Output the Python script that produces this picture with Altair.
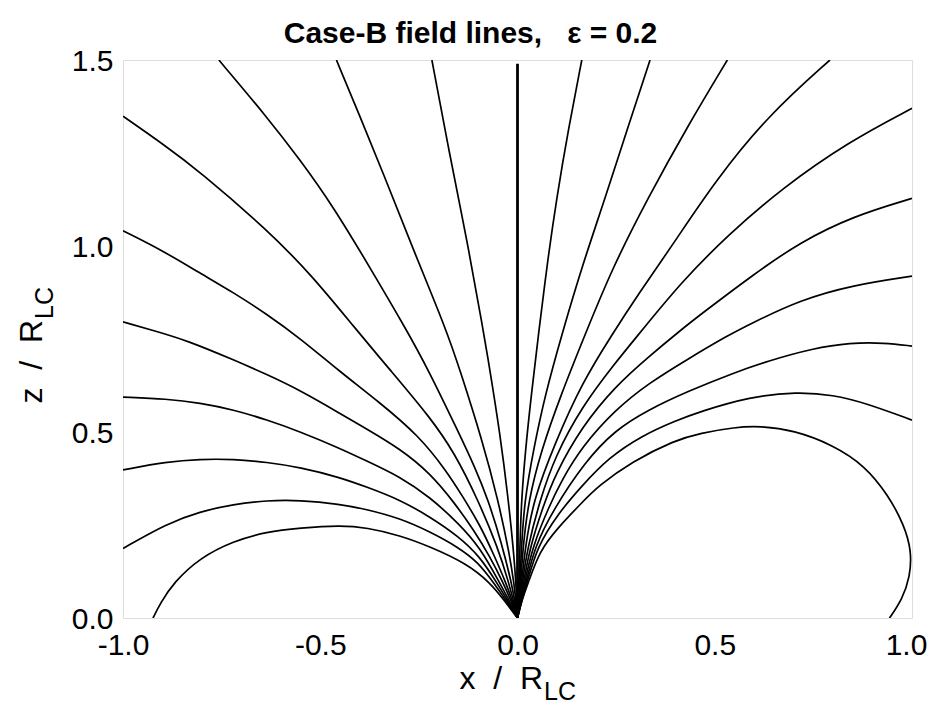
import altair as alt
import pandas as pd

# ---- field-line samples (x / R_LC, z / R_LC) ----
left1_x = [0, -0.032, -0.068, -0.13, -0.222, -0.298, -0.382, -0.45, -0.551, -0.636, -0.72, -0.805, -0.872, -0.905, -0.924]
left1_z = [0, 0.045, 0.094, 0.147, 0.192, 0.222, 0.243, 0.249, 0.242, 0.232, 0.207, 0.162, 0.095, 0.04, 0]

left2_x = [0, -0.028, -0.06, -0.1, -0.15, -0.222, -0.298, -0.382, -0.45, -0.551, -0.636, -0.72, -0.805, -0.889, -1.0]
left2_z = [0, 0.045, 0.094, 0.15, 0.19, 0.232, 0.268, 0.292, 0.306, 0.317, 0.316, 0.306, 0.286, 0.254, 0.187]

left3_x = [0, -0.024, -0.052, -0.095, -0.15, -0.222, -0.298, -0.382, -0.45, -0.551, -0.636, -0.72, -0.805, -0.889, -1.0]
left3_z = [0, 0.045, 0.094, 0.165, 0.22, 0.272, 0.318, 0.352, 0.378, 0.405, 0.419, 0.427, 0.427, 0.42, 0.398]

left4_x = [0, -0.02, -0.045, -0.095, -0.15, -0.222, -0.298, -0.382, -0.45, -0.551, -0.636, -0.72, -0.805, -0.889, -1.0]
left4_z = [0, 0.045, 0.094, 0.19, 0.255, 0.325, 0.38, 0.422, 0.456, 0.501, 0.533, 0.56, 0.578, 0.589, 0.594]

left5_x = [0, -0.016, -0.036, -0.07, -0.11, -0.16, -0.222, -0.298, -0.382, -0.45, -0.551, -0.636, -0.72, -0.835, -0.92, -1.0]
left5_z = [0, 0.045, 0.094, 0.165, 0.235, 0.31, 0.39, 0.455, 0.508, 0.55, 0.612, 0.655, 0.694, 0.745, 0.772, 0.796]

left6_x = [0, -0.013, -0.029, -0.06, -0.095, -0.141, -0.18, -0.25, -0.35, -0.45, -0.551, -0.636, -0.72, -0.805, -0.9, -1.0]
left6_z = [0, 0.045, 0.094, 0.17, 0.25, 0.33, 0.395, 0.49, 0.58, 0.662, 0.752, 0.817, 0.875, 0.927, 0.988, 1.041]

left7_x = [0, -0.01, -0.022, -0.05, -0.1, -0.16, -0.222, -0.323, -0.408, -0.52, -0.636, -0.805, -0.9, -1.0]
left7_z = [0, 0.045, 0.094, 0.19, 0.317, 0.445, 0.54, 0.667, 0.774, 0.92, 1.045, 1.2, 1.275, 1.349]

left8_x = [0, -0.007, -0.015, -0.04, -0.074, -0.11, -0.15, -0.226, -0.281, -0.37, -0.467, -0.55, -0.636, -0.757]
left8_z = [0, 0.045, 0.094, 0.2, 0.317, 0.41, 0.5, 0.667, 0.774, 0.935, 1.106, 1.23, 1.348, 1.5]

left9_x = [0, -0.004, -0.009, -0.02, -0.049, -0.09, -0.146, -0.18, -0.268, -0.34, -0.4, -0.459]
left9_z = [0, 0.045, 0.094, 0.17, 0.317, 0.48, 0.667, 0.774, 1.0, 1.195, 1.35, 1.5]

left10_x = [0, -0.002, -0.004, -0.01, -0.023, -0.045, -0.07, -0.087, -0.128, -0.171, -0.217]
left10_z = [0, 0.045, 0.094, 0.18, 0.317, 0.5, 0.667, 0.774, 1.016, 1.24, 1.5]

axis_x = [0, 0]
axis_z = [0, 1.49]

right10_x = [0, 0.002, 0.004, 0.006, 0.01, 0.02, 0.035, 0.053, 0.075, 0.099, 0.13, 0.163]
right10_z = [0, 0.045, 0.094, 0.192, 0.317, 0.45, 0.6, 0.761, 0.95, 1.128, 1.32, 1.5]

right9_x = [0, 0.003, 0.006, 0.01, 0.018, 0.04, 0.07, 0.112, 0.165, 0.222, 0.28, 0.336]
right9_z = [0, 0.045, 0.094, 0.192, 0.317, 0.45, 0.6, 0.761, 0.95, 1.128, 1.32, 1.5]

right8_x = [0, 0.004, 0.008, 0.014, 0.028, 0.06, 0.11, 0.171, 0.24, 0.33, 0.43, 0.532]
right8_z = [0, 0.045, 0.094, 0.192, 0.317, 0.45, 0.6, 0.761, 0.94, 1.128, 1.32, 1.5]

right7_x = [0, 0.005, 0.01, 0.02, 0.04, 0.095, 0.163, 0.239, 0.306, 0.399, 0.5, 0.636, 0.792]
right7_z = [0, 0.045, 0.094, 0.192, 0.317, 0.47, 0.631, 0.761, 0.87, 1.012, 1.173, 1.352, 1.5]

right6_x = [0, 0.006, 0.012, 0.026, 0.057, 0.095, 0.163, 0.247, 0.306, 0.416, 0.534, 0.67, 0.839, 1.0]
right6_z = [0, 0.045, 0.094, 0.192, 0.317, 0.434, 0.568, 0.685, 0.761, 0.904, 1.03, 1.155, 1.28, 1.37]

right5_x = [0, 0.007, 0.015, 0.032, 0.065, 0.095, 0.163, 0.247, 0.332, 0.414, 0.463, 0.6, 0.716, 0.85, 1.0]
right5_z = [0, 0.045, 0.094, 0.192, 0.3, 0.385, 0.514, 0.622, 0.702, 0.774, 0.815, 0.925, 1.01, 1.08, 1.128]

right4_x = [0, 0.008, 0.018, 0.038, 0.08, 0.112, 0.163, 0.247, 0.332, 0.433, 0.534, 0.589, 0.716, 0.85, 1.0]
right4_z = [0, 0.045, 0.094, 0.192, 0.3, 0.37, 0.46, 0.559, 0.631, 0.697, 0.76, 0.79, 0.855, 0.895, 0.919]

right3_x = [0, 0.009, 0.021, 0.044, 0.09, 0.171, 0.247, 0.332, 0.433, 0.551, 0.632, 0.75, 0.843, 0.93, 1.0]
right3_z = [0, 0.045, 0.094, 0.192, 0.29, 0.42, 0.505, 0.56, 0.61, 0.66, 0.69, 0.725, 0.74, 0.74, 0.731]

right2_x = [0, 0.01, 0.024, 0.05, 0.103, 0.163, 0.23, 0.315, 0.4, 0.463, 0.589, 0.708, 0.8, 0.885, 1.0]
right2_z = [0, 0.045, 0.094, 0.192, 0.281, 0.355, 0.43, 0.49, 0.53, 0.555, 0.595, 0.608, 0.6, 0.577, 0.532]

right1_x = [0, 0.011, 0.027, 0.056, 0.1, 0.163, 0.205, 0.289, 0.399, 0.463, 0.551, 0.615, 0.7, 0.8, 0.88, 0.94, 0.98, 0.999, 0.995, 0.975, 0.943]
right1_z = [0, 0.048, 0.094, 0.18, 0.24, 0.31, 0.355, 0.42, 0.478, 0.497, 0.513, 0.516, 0.505, 0.465, 0.41, 0.33, 0.25, 0.18, 0.11, 0.05, 0]

x_ticks = [-1.0, -0.5, 0.0, 0.5, 1.0]
z_ticks = [0.0, 0.5, 1.0, 1.5]

title_text = "Case-B field lines,\u00a0\u00a0\u00a0\u03b5 = 0.2"
x_title_main, x_title_sub = "x\u00a0\u00a0/\u00a0\u00a0R", "LC"
z_title_main, z_title_sub = "z\u00a0\u00a0/\u00a0\u00a0R", "LC"

FONT = "Liberation Sans, Arial, Helvetica, sans-serif"

series = [
    ("L1", left1_x, left1_z), ("L2", left2_x, left2_z), ("L3", left3_x, left3_z),
    ("L4", left4_x, left4_z), ("L5", left5_x, left5_z), ("L6", left6_x, left6_z),
    ("L7", left7_x, left7_z), ("L8", left8_x, left8_z), ("L9", left9_x, left9_z),
    ("L10", left10_x, left10_z),
    ("R1", right1_x, right1_z), ("R2", right2_x, right2_z), ("R3", right3_x, right3_z),
    ("R4", right4_x, right4_z), ("R5", right5_x, right5_z), ("R6", right6_x, right6_z),
    ("R7", right7_x, right7_z), ("R8", right8_x, right8_z), ("R9", right9_x, right9_z),
    ("R10", right10_x, right10_z),
]
rows = []
for name, xs, zs in series:
    for i, (a, b) in enumerate(zip(xs, zs)):
        rows.append({"line": name, "i": i, "x": a, "z": b})
df = pd.DataFrame(rows)
df_axis = pd.DataFrame({"line": "C", "i": [0, 1], "x": axis_x, "z": axis_z})

x_enc = alt.X(
    "x:Q",
    scale=alt.Scale(domain=[-1, 1], nice=False, zero=False),
    axis=alt.Axis(
        values=x_ticks, title=None, grid=False, ticks=False, domain=False,
        labelExpr="datum.value < 0 ? '-' + format(-datum.value, '.1f') : format(datum.value, '.1f')",
        labelFont=FONT, labelFontSize=30, labelColor="black", labelPadding=12,
        labelOffset={"condition": {"test": "datum.value >= 1", "value": -6}, "value": 0},
        labelFlush=False, labelOverlap=False,
    ),
)
y_enc = alt.Y(
    "z:Q",
    scale=alt.Scale(domain=[0, 1.5], nice=False, zero=False),
    axis=alt.Axis(
        values=z_ticks, title=None, grid=False, ticks=False, domain=False, format=".1f",
        labelFont=FONT, labelFontSize=30, labelColor="black", labelPadding=10,
        labelOffset=1, labelFlush=False, labelOverlap=False,
    ),
)

lines = alt.Chart(df).mark_line(
    color="black", strokeWidth=1.7, interpolate="basis", clip=True
).encode(x=x_enc, y=y_enc, detail="line:N", order="i:Q")

center = alt.Chart(df_axis).mark_line(
    color="black", strokeWidth=2.8, clip=True
).encode(x="x:Q", y="z:Q", order="i:Q")

xt_main = alt.Chart(pd.DataFrame({"t": [x_title_main]})).mark_text(
    font=FONT, fontSize=32, align="right", baseline="alphabetic", color="black"
).encode(text="t:N", x=alt.value(420), y=alt.value(629))
xt_sub = alt.Chart(pd.DataFrame({"t": [x_title_sub]})).mark_text(
    font=FONT, fontSize=25, align="left", baseline="alphabetic", color="black"
).encode(text="t:N", x=alt.value(421), y=alt.value(640))

zt_main = alt.Chart(pd.DataFrame({"t": [z_title_main]})).mark_text(
    font=FONT, fontSize=32, align="right", baseline="alphabetic", angle=270, color="black"
).encode(text="t:N", x=alt.value(-81), y=alt.value(260))
zt_sub = alt.Chart(pd.DataFrame({"t": [z_title_sub]})).mark_text(
    font=FONT, fontSize=25, align="left", baseline="alphabetic", angle=270, color="black"
).encode(text="t:N", x=alt.value(-70), y=alt.value(259))

chart = alt.layer(lines, center, xt_main, xt_sub, zt_main, zt_sub).properties(
    width=789,
    height=558,
    autosize=alt.AutoSizeParams(type="none"),
    padding={"left": 115, "top": 52, "right": 15, "bottom": 87},
    title=alt.TitleParams(
        title_text, font=FONT, fontSize=30, fontWeight="bold", color="black",
        anchor="middle", dx=-47, dy=17, offset=14,
    ),
).configure_view(stroke="#8a8a8a", strokeWidth=1).configure(background="white")

chart.save("out.html", embed_options={"renderer": "svg", "actions": False})
